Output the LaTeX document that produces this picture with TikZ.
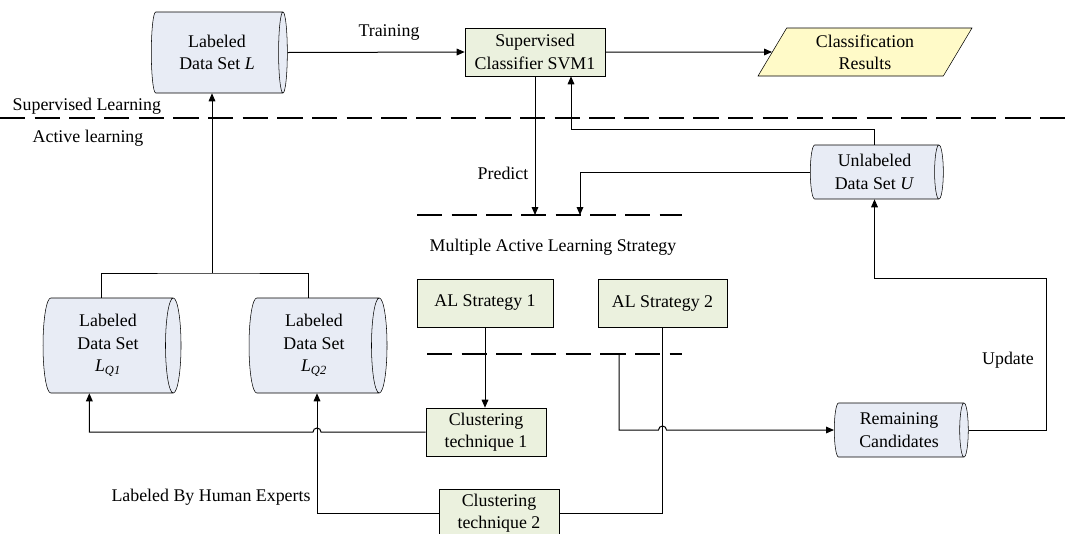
\documentclass[tikz,border=0pt]{standalone}
\usepackage{fontspec}
\setmainfont{Liberation Serif}
\usetikzlibrary{shapes.geometric,arrows.meta}

\definecolor{dbfill}{RGB}{232,236,245}
\definecolor{stepfill}{RGB}{235,241,222}
\definecolor{resfill}{RGB}{255,250,200}

\tikzset{
  dbase/.style={cylinder, draw, aspect=0.25, cylinder uses custom fill,
    cylinder body fill=dbfill, cylinder end fill=dbfill, align=center, inner sep=0pt},
  procbox/.style={draw, fill=stepfill, align=center, minimum height=36pt},
  conn/.style={line width=0.75pt},
  arr/.style={conn, -{Triangle[length=6pt,width=5pt]}},
  sep/.style={line width=2.2pt, dash pattern=on 19pt off 7pt},
}

\begin{document}
\begin{tikzpicture}[x=0.75pt,y=-0.75pt,font=\fontsize{13.4}{16.8}\selectfont]
  \useasboundingbox (0,0) rectangle (1071,533);

  % supervised part
  \node[dbase, minimum height=102pt, minimum width=60.75pt] (setL) at (217,52.5) {Labeled\\Data Set \textit{L}};
  \node[procbox, minimum width=105pt] (svm) at (535,52) {Supervised\\Classifier SVM1};
  \node[trapezium, trapezium left angle=66, trapezium right angle=114, trapezium stretches=true,
    draw, fill=resfill, minimum width=160.5pt, minimum height=36pt, align=center] (res) at (865,52) {Classification\\Results};
  \draw[arr] (setL.east) -- (svm.west);
  \node (trainlab) at (389,33) {Training};
  \draw[arr] (svm) -- (res);

  % separator
  \node[anchor=west] (suplab) at (8,106) {Supervised Learning};
  \coordinate (sepA) at (0,118);
  \coordinate (sepB) at (1071,118);
  \draw[sep] (sepA) -- (sepB);
  \node (actlab) at (88,138) {Active learning};

  % strategy pool
  \coordinate (strat) at (417,215);
  \coordinate (stratend) at (682,215);
  \draw[sep] (strat) -- (stratend);
  \node (maslab) at (553,247) {Multiple Active Learning Strategy};
  \draw[arr] (svm.south) -- (svm.south |- strat);
  \node (predlab) at (503,173) {Predict};

  \node[dbase, minimum height=99.75pt, minimum width=40.5pt] (setU) at (874.5,172) {Unlabeled\\Data Set \textit{U}};
  \draw[arr] (setU.north) -- ++(0,-15) -| ([xshift=27pt]svm.south);
  \coordinate (uin) at (580,215);
  \draw[arr] (setU.west) -| (uin);

  \node[procbox, minimum width=102pt] (al1) at (485,303) {AL Strategy 1};
  \node[procbox, minimum width=96.75pt] (al2) at (662.5,303.5) {AL Strategy 2};
  \coordinate (sel) at (427,354);
  \coordinate (selend) at (682,354);
  \draw[sep] (sel) -- (selend);

  \node[procbox, minimum width=90pt] (cl1) at (486,432) {Clustering\\technique 1};
  \node[procbox, minimum width=90pt] (cl2) at (499,513) {Clustering\\technique 2};
  \draw[arr] (al1.south) -- (al1.south |- cl1.north);

  % query sets
  \node[dbase, minimum height=103.5pt, minimum width=71.25pt] (setq1) at (108,345.5) {Labeled\\Data Set\\\textit{L}\textsubscript{\textit{Q1}}};
  \node[dbase, minimum height=103.5pt, minimum width=71.25pt] (setq2) at (314,345.5) {Labeled\\Data Set\\\textit{L}\textsubscript{\textit{Q2}}};
  \coordinate (junc) at (212,273);
  \draw[conn] ([xshift=-4.8pt]setq1.north) |- (junc) -| ([xshift=-4.5pt]setq2.north);
  \draw[arr] (junc) -- (junc |- setL.south);

  \draw[arr] (cl1.west) -- ([xshift=5.25pt]setq2.south |- cl1.west) arc (0:180:3pt) -| ([xshift=-14pt]setq1.south);
  \draw[arr] (cl2.west) -| ([xshift=2.25pt]setq2.south);
  \draw[conn] (al2.south) |- (cl2.east);
  \node (humlab) at (211,497) {Labeled By Human Experts};

  % remaining pool
  \node[dbase, minimum height=100.5pt, minimum width=40.5pt] (rc) at (899,430) {Remaining\\Candidates};
  \coordinate (rcout) at (619,354);
  \draw[arr] (rcout) |- ([xshift=-3pt]al2.south |- rc.west) arc (180:0:3pt) -- (rc.west);
  \coordinate (loop) at (1046,278);
  \draw[arr] (rc.east) -| (loop) -| (setU.south);
  \node (updlab) at (1008,360) {Update};
\end{tikzpicture}
\end{document}
